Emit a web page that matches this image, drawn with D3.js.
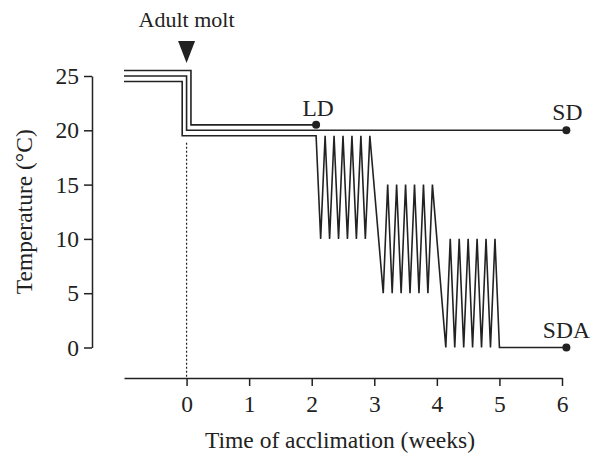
<!DOCTYPE html>
<html>
<head>
<meta charset="utf-8">
<script src="https://cdn.jsdelivr.net/npm/d3@7"></script>
<style>
  html, body { margin: 0; padding: 0; background: #fff; }
  svg { display: block; }
  text { font-family: "Liberation Serif", "Times New Roman", serif; fill: #222; }
</style>
</head>
<body>
<svg id="chart" width="592" height="456"></svg>
<script>
// ---- data ----
const xTicks = [0, 1, 2, 3, 4, 5, 6];
const yTicks = [0, 5, 10, 15, 20, 25];

// LD: long-day constant regime (upper line)
const ldWeeks = [-1, 0.07, 0.07, 2.07];
const ldTemps = [25.5, 25.5, 20.5, 20.5];

// SD: short-day constant regime (middle line)
const sdWeeks = [-1, 0, 0, 6.07];
const sdTemps = [25, 25, 20, 20];

// SDA: short-day with gradual cooling and daily fluctuations (lower line)
const sdaWeeks = [-1, -0.07, -0.07, 2.07,
  2.143, 2.214, 2.286, 2.357, 2.429, 2.5, 2.571, 2.643, 2.714, 2.786, 2.857, 2.929,
  3.143, 3.214, 3.286, 3.357, 3.429, 3.5, 3.571, 3.643, 3.714, 3.786, 3.857, 3.929,
  4.143, 4.214, 4.286, 4.357, 4.429, 4.5, 4.571, 4.643, 4.714, 4.786, 4.857, 4.929,
  5.0, 6.07];
const sdaTemps = [24.5, 24.5, 19.5, 19.5,
  10, 19.5, 10, 19.5, 10, 19.5, 10, 19.5, 10, 19.5, 10, 19.5,
  5, 15, 5, 15, 5, 15, 5, 15, 5, 15, 5, 15,
  0, 10, 0, 10, 0, 10, 0, 10, 0, 10, 0, 10,
  0, 0];

const endLabels = ["LD", "SD", "SDA"];
const endWeeks = [2.07, 6.07, 6.07];
const endTemps = [20.5, 20, 0];

const moltWeek = 0;
const moltLabel = "Adult molt";
const xTitle = "Time of acclimation (weeks)";
const yTitle = "Temperature (°C)";

// ---- layout ----
const svg = d3.select("#chart");
const ink = "#222";
const fontSize = 23.5;

const x = d3.scaleLinear().domain([-1, 6]).range([124, 562]);
const y = d3.scaleLinear().domain([0, 25]).range([347.5, 76]);
const xAxisY = 378;
const yAxisX = 92;

// axes
const xAxis = svg.append("g")
  .attr("transform", `translate(0,${xAxisY})`)
  .call(d3.axisBottom(x).tickValues(xTicks).tickFormat(d3.format("d")).tickSize(8).tickSizeOuter(0).tickPadding(9));
const yAxis = svg.append("g")
  .attr("transform", `translate(${yAxisX},0)`)
  .call(d3.axisLeft(y).tickValues(yTicks).tickFormat(d3.format("d")).tickSize(8).tickSizeOuter(0).tickPadding(5));

[xAxis, yAxis].forEach(g => {
  g.attr("font-family", null).attr("font-size", null);
  g.selectAll("path, line").attr("stroke", ink).attr("stroke-width", 1.5);
  g.selectAll("text").attr("font-size", fontSize).attr("fill", ink);
});

// dotted molt line
svg.append("line")
  .attr("x1", x(moltWeek)).attr("x2", x(moltWeek))
  .attr("y1", y(19.5) + 7).attr("y2", xAxisY)
  .attr("stroke", ink).attr("stroke-width", 1.2).attr("stroke-dasharray", "2,2");

// lines
const line = d3.line().x(d => x(d[0])).y(d => y(d[1]));
const series = [
  d3.zip(ldWeeks, ldTemps),
  d3.zip(sdWeeks, sdTemps),
  d3.zip(sdaWeeks, sdaTemps)
];
svg.selectAll("path.series").data(series).enter().append("path")
  .attr("class", "series")
  .attr("d", line)
  .attr("fill", "none")
  .attr("stroke", ink)
  .attr("stroke-width", 1.6)
  .attr("stroke-linejoin", "miter")
  .attr("stroke-miterlimit", 10);

// end dots
svg.selectAll("circle.end").data(d3.range(endLabels.length)).enter().append("circle")
  .attr("cx", i => x(endWeeks[i]))
  .attr("cy", i => y(endTemps[i]))
  .attr("r", 4)
  .attr("fill", ink);

// end labels
const labelDx = [2, 1, 0];
const labelDy = [-9, -10, -10];
svg.selectAll("text.end").data(d3.range(endLabels.length)).enter().append("text")
  .attr("x", i => x(endWeeks[i]) + labelDx[i])
  .attr("y", i => y(endTemps[i]) + labelDy[i])
  .attr("text-anchor", "middle")
  .attr("font-size", fontSize)
  .text(i => endLabels[i]);

// adult molt marker
svg.append("text")
  .attr("x", x(moltWeek))
  .attr("y", 27)
  .attr("text-anchor", "middle")
  .attr("font-size", 22)
  .text(moltLabel);
const mx = x(moltWeek);
svg.append("path")
  .attr("d", `M${mx - 8.5},41 L${mx + 8.5},41 L${mx},63 Z`)
  .attr("fill", ink);

// axis titles
svg.append("text")
  .attr("x", (x(-1) + x(6)) / 2 - 3)
  .attr("y", 448)
  .attr("text-anchor", "middle")
  .attr("font-size", fontSize)
  .text(xTitle);
svg.append("text")
  .attr("transform", `translate(32,${(y(0) + y(25)) / 2}) rotate(-90)`)
  .attr("text-anchor", "middle")
  .attr("font-size", fontSize)
  .text(yTitle);
</script>
</body>
</html>
